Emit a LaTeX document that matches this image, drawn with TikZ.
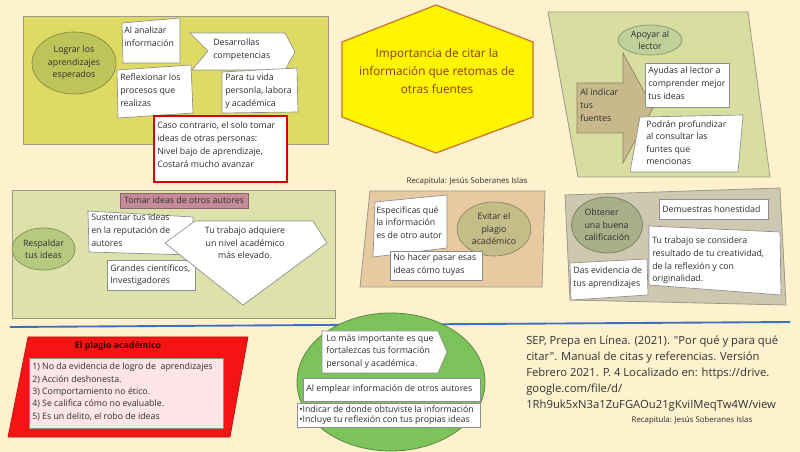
\documentclass[tikz,border=0pt]{standalone}
\usepackage{fontspec}
\setmainfont{Open Sans}[Ligatures=TeXOff]
\usetikzlibrary{shapes.geometric}

\definecolor{bgcream}{HTML}{FEF1CE}
\definecolor{txtgray}{HTML}{2E2E2E}
\definecolor{boxgray}{HTML}{8E8E8E}
\definecolor{panelgray}{HTML}{9A9A86}
\definecolor{pyellow}{HTML}{DEDB64}
\definecolor{ologro}{HTML}{BEC45A}
\definecolor{hexfill}{HTML}{FFF500}
\definecolor{hexline}{HTML}{C8702C}
\definecolor{hextext}{HTML}{8A3B12}
\definecolor{pgreen}{HTML}{D8DDA2}
\definecolor{oapoyo}{HTML}{BFD09A}
\definecolor{arrowtan}{HTML}{C8B98C}
\definecolor{pbeige}{HTML}{DDE1AA}
\definecolor{mauve}{HTML}{C58B9B}
\definecolor{orespaldo}{HTML}{B6C97E}
\definecolor{ptan}{HTML}{E8CAA2}
\definecolor{oevitar}{HTML}{C4BD88}
\definecolor{pgraytan}{HTML}{CEC8B0}
\definecolor{obtener}{HTML}{A9AF88}
\definecolor{lineblue}{HTML}{3C6EC4}
\definecolor{plagred}{HTML}{F41414}
\definecolor{plagpink}{HTML}{FCE4E8}
\definecolor{ogreen}{HTML}{7DC35B}

\newlength\pxu
\setlength\pxu{0.75pt}

\tikzset{
	txt/.style={font=\fontsize{6.6}{9.4}\selectfont, text=txtgray, align=left, inner sep=0pt, anchor=north west},
	wbox/.style={draw=boxgray, fill=white, line width=0.5pt},
	panel/.style={draw=panelgray, line width=0.6pt},
	oval/.style={ellipse, draw=#1!70!black, fill=#1, line width=0.5pt, inner sep=0pt, font=\fontsize{6.6}{9.4}\selectfont, text=txtgray, align=center},
	recap/.style={inner sep=0pt, text=txtgray, font=\fontsize{5.9}{6.5}\selectfont},
}

\begin{document}
\begin{tikzpicture}[x=0.75pt, y=-0.75pt]
			%%%%% START %%%%%
			
			\fill[bgcream] (0, 0) rectangle (800, 452);
			\useasboundingbox (0, 0) rectangle (800, 452);
			
			%%% logros
			\draw[panel, fill=pyellow] (23, 16) rectangle (328, 144);
			\node[oval=ologro, minimum width=84\pxu, minimum height=62\pxu] (logros) at (74, 63) {Lograr los\\aprendizajes\\esperados};
			
			\draw[wbox] (122, 23) -- (180, 18) -- (180, 63) -- (123, 63) -- cycle;
			\node[txt] (analizar) at (124, 27) {Al analizar\\información};
			
			\draw[wbox] (190, 33) -- (285, 33) -- (295, 52) -- (285, 70) -- (192, 70) -- (208, 51) -- cycle;
			\node[txt] (competencias) at (213, 39) {Desarrollas\\competencias};
			
			\draw[wbox] (117, 70) -- (191, 65) -- (193, 113) -- (118, 118) -- cycle;
			\node[txt] (reflexionar) at (120, 74) {Reflexionar los\\procesos que\\realizas};
			
			\draw[wbox] (222, 72) -- (297, 68) -- (298, 112) -- (222, 113) -- cycle;
			\node[txt] (vida) at (225, 74) {Para tu vida\\personla, labora\\y académica};
			
			\draw[wbox, draw=red!85!black, line width=0.8pt] (154, 116) rectangle (287, 182);
			\node[txt, font=\fontsize{6.6}{9.6}\selectfont] (contrario) at (157, 122) {Caso contrario, el solo tomar\\ideas de otras personas:\\ Nivel bajo de aprendizaje,\\ Costará mucho avanzar};
			
			%%% titulo
			\draw[fill=hexfill, draw=hexline, line width=0.9pt] (436, 5) -- (533, 42) -- (533, 117) -- (436, 153) -- (342, 117) -- (342, 42) -- cycle;
			\node[align=center, inner sep=0pt, text=hextext, font=\fontsize{8.8}{13.5}\selectfont] (titulo) at (437, 71) {Importancia de citar la\\información que retomas de\\otras fuentes};
			\node[recap] (recap1) at (467, 181) {Recapitula: Jesús Soberanes Islas};
			
			%%% apoyar
			\draw[panel, fill=pgreen] (548, 12) -- (748, 12) -- (770, 177) -- (578, 177) -- cycle;
			\node[oval=oapoyo, minimum width=64\pxu, minimum height=30\pxu] (apoyar) at (650, 40) {Apoyar al\\lector};
			\draw[fill=arrowtan, draw=arrowtan!70!black, line width=0.5pt] (577, 83) -- (623, 83) -- (623, 53) -- (653, 108) -- (623, 163) -- (623, 133) -- (577, 133) -- cycle;
			\node[txt] (indicar) at (580, 89) {Al indicar\\tus\\fuentes};
			
			\draw[wbox] (645, 63) rectangle (729, 107);
			\node[txt] (ayudas) at (648, 67) {Ayudas al lector a\\comprender mejor\\tus ideas};
			
			\draw[wbox] (640, 117) -- (743, 115) -- (738, 172) -- (630, 172) -- cycle;
			\node[txt] (profundizar) at (646, 120) {Podrán profundizar\\al consultar las\\funtes que\\mencionas};
			
			%%% respaldar
			\draw[panel, fill=pbeige] (12, 190) rectangle (335, 318);
			\draw[fill=mauve, draw=mauve!70!black, line width=0.5pt] (120, 193) rectangle (248, 208);
			\node[inner sep=0pt, text=txtgray, font=\fontsize{6.6}{9.4}\selectfont] (tomar) at (184, 200.5) {Tomar ideas de otros autores};
			\node[oval=orespaldo, minimum width=63\pxu, minimum height=42\pxu] (respaldar) at (43.5, 249) {Respaldar\\tus ideas};
			
			\draw[wbox] (88, 211) -- (193, 217) -- (192, 255) -- (89, 252) -- cycle;
			\node[txt] (sustentar) at (91, 214) {Sustentar tus ideas\\en la reputación de\\autores};
			
			\draw[wbox] (107, 260) rectangle (195, 290);
			\node[txt] (grandes) at (110, 264) {Grandes científicos,\\Investigadores};
			
			\draw[wbox] (195, 221) -- (313, 221) -- (327, 243) -- (243, 305) -- (165, 243) -- cycle;
			\node[align=center, inner sep=0pt, text=txtgray, font=\fontsize{6.6}{9.4}\selectfont] (nivel) at (245, 243) {Tu trabajo adquiere\\un nivel académico\\más elevado.};
			
			%%% evitar
			\draw[panel, fill=ptan] (370, 191) -- (545, 191) -- (542, 287) -- (360, 287) -- cycle;
			\draw[wbox] (375, 202) -- (447, 195) -- (447, 248) -- (373, 257) -- cycle;
			\node[txt] (especificas) at (376, 206) {Especificas qué\\la información\\es de otro autor};
			\node[oval=oevitar, minimum width=74\pxu, minimum height=54\pxu] (evitar) at (494, 229) {Evitar el\\plagio\\académico};
			
			\draw[wbox] (390, 251) rectangle (482, 280);
			\node[txt] (nohacer) at (393, 254) {No hacer pasar esas\\ideas cómo tuyas};
			
			%%% calificacion
			\draw[panel, fill=pgraytan] (565, 195) -- (780, 188) -- (786, 305) -- (570, 300) -- cycle;
			\node[oval=obtener, minimum width=71\pxu, minimum height=56\pxu, align=left] (obtener) at (607, 225) {Obtener\\una buena\\calificación};
			
			\draw[wbox] (659, 199) rectangle (768, 219);
			\node[txt, anchor=west] (honestidad) at (662, 209) {Demuestras honestidad};
			
			\draw[wbox] (649, 226) -- (780, 232) -- (781, 295) -- (649, 285) -- cycle;
			\node[txt] (creatividad) at (652, 237) {Tu trabajo se considera\\resultado de tu creatividad,\\de la reflexión y con\\originalidad.};
			
			\draw[wbox] (570, 263) -- (647, 259) -- (648, 295) -- (571, 300) -- cycle;
			\node[txt] (evidencia) at (573, 267) {Das evidencia de\\tus aprendizajes};
			
			%%% linea
			\draw[lineblue, line width=1.4pt] (10, 327) -- (790, 322);
			
			%%% plagio
			\draw[fill=plagred, draw=plagred!75!black, line width=0.5pt] (28, 337) -- (248, 337) -- (230, 437) -- (8, 437) -- cycle;
			\node[inner sep=0pt, text=black!80!red, font=\bfseries\fontsize{6.6}{9.4}\selectfont] (plagio) at (118, 346) {El plagio académico};
			\draw[fill=plagpink, draw=boxgray, line width=0.5pt] (29, 358) rectangle (223, 428);
			\node[txt, font=\fontsize{6.6}{9.2}\selectfont] (lista) at (32, 363) {1) No da evidencia de logro de\ \ aprendizajes\\2) Acción deshonesta.\\3) Comportamiento no ético.\\4) Se califica cómo no evaluable.\\5) Es un delito, el robo de ideas};
			
			%%% formacion
			\draw[fill=ogreen, draw=ogreen!70!black, line width=0.6pt] (391, 382) ellipse [x radius=94, y radius=69];
			\draw[wbox] (322, 331) -- (438, 331) -- (447, 352) -- (438, 373) -- (322, 373) -- cycle;
			\node[txt] (importante) at (326, 334) {Lo más importante es que\\fortalezcas tus formación\\personal y académica.};
			
			\draw[wbox] (303, 378) rectangle (480, 401);
			\node[txt, anchor=west] (emplear) at (306, 389.5) {Al emplear información de otros autores};
			
			\draw[wbox] (297, 403) rectangle (480, 427);
			\node[txt, font=\fontsize{6.6}{7.6}\selectfont] (indicaciones) at (299, 405.5) {•Indicar de donde obtuviste la información\\•Incluye tu reflexión con tus propias ideas};
			
			%%% referencia
			\node[txt, font=\fontsize{8.45}{12}\selectfont, text=black!80] (referencia) at (526, 336) {SEP, Prepa en Línea. (2021). "Por qué y para qué\\citar". Manual de citas y referencias. Versión\\Febrero 2021. P. 4 Localizado en: https://drive.\\google.com/file/d/\\1Rh9uk5xN3a1ZuFGAOu21gKviIMeqTw4W/view};
			\node[recap] (recap2) at (692, 420) {Recapitula: Jesús Soberanes Islas};
			
			%%%%% END %%%%%
\end{tikzpicture}
\end{document}
